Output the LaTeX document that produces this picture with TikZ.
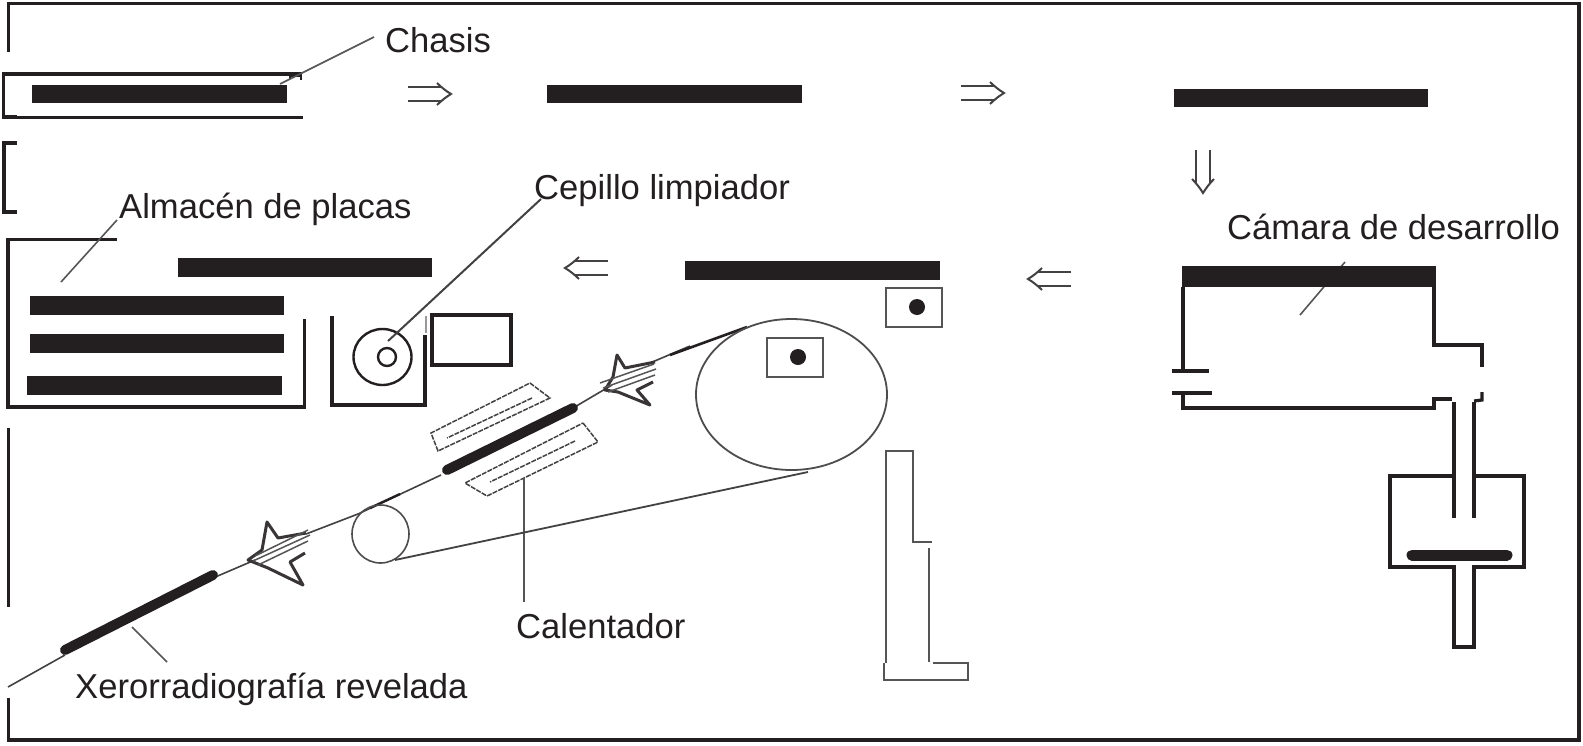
\documentclass[tikz,border=0pt]{standalone}
\usepackage{fontspec}
\setmainfont{Liberation Sans}
\definecolor{ink}{HTML}{231F20}
\definecolor{lead}{HTML}{555555}
\tikzset{
  x=1pt,y=-1pt,
  label/.style={inner sep=0pt,anchor=base west,text=ink,font=\fontsize{34.6}{35}\selectfont},
  wall/.style={draw=ink,line width=3.2pt,line cap=butt,line join=miter},
  plate/.style={fill=ink,draw=none},
  leader/.style={draw=lead,line width=1.6pt},
  belt/.style={draw=ink!85,line width=1.6pt},
  dashy/.style={draw=ink!85,line width=1.5pt,dash pattern=on 5pt off 1.2pt},
  film/.style={draw=ink,line width=10pt,line cap=round},
  dotc/.style={fill=ink,draw=none},
  box/.style={draw=lead,line width=2.6pt},
  starline/.style={draw=ink!90,line width=3pt,line join=round},
  hatch/.style={draw=lead,line width=1.5pt},
  dblarr/.pic={
    \draw[ink!85,line width=2pt] (-21,-7) -- (13,-7) (-21,7) -- (13,7);
    \draw[ink!85,line width=2pt] (8,-11) .. controls (12,-7) and (17,-3) .. (22,0) .. controls (17,3) and (12,7) .. (8,11);
  }
}
\begin{document}
\begin{tikzpicture}
\useasboundingbox (0,0) rectangle (1583,745);
\fill[white] (0,0) rectangle (1583,745);
% outer frame
\draw[wall] (8.5,52) -- (8.5,3.5) -- (1579,3.5) -- (1579,740) -- (8.5,740) -- (8.5,698);
\draw[wall] (17,143) -- (4,143) -- (4,212) -- (17,212);
\draw[wall] (8.5,428) -- (8.5,607);
% chasis
\draw[wall] (302,74) -- (3.5,74) -- (3.5,117) -- (17,117);
\draw[wall] (17,117.5) -- (303,117.5);
\draw[wall,line width=1.8pt] (290,79) -- (290,76) -- (301,76) -- (301,80);
\coordinate (chasisA) at (280,84);
\coordinate (chasisB) at (374,37);
\draw[leader] (chasisA) -- (chasisB);
\fill[plate] (32,85) rectangle (287,103);
\node[label] (chasis) at (385,52) {Chasis};
% plates along the path
\fill[plate] (547,85) rectangle (802,103);
\fill[plate] (1174,89) rectangle (1428,107);
\fill[plate] (685,261) rectangle (940,280);
\pic at (429,94) {dblarr};
\pic at (982,93) {dblarr};
\pic[rotate=-90] at (1203,171) {dblarr};
\pic[rotate=180] at (587,268) {dblarr};
\pic[rotate=180] at (1050,279) {dblarr};
% store
\draw[wall] (117,239.5) -- (8,239.5) -- (8,407) -- (304.5,407) -- (304.5,319);
\coordinate (storeA) at (61,282);
\coordinate (storeB) at (117,220);
\draw[leader] (storeA) -- (storeB);
\node[label] (almacen) at (119,218) {Almacén de placas};
\fill[plate] (178,258) rectangle (432,277);
\fill[plate] (30,296) rectangle (284,315);
\fill[plate] (30,334) rectangle (284,353);
\fill[plate] (27,376) rectangle (282,395);
% brush
\draw[wall] (332,316) -- (332,405) -- (425,405) -- (425,335);
\draw[draw=lead!60,line width=1.2pt] (426,316) -- (426,333);
\draw[draw=ink,line width=2.4pt] (382.5,357) ellipse [x radius=29,y radius=28];
\draw[draw=ink,line width=2.4pt] (387,357) circle [radius=9];
\coordinate (brushA) at (388,341);
\coordinate (brushB) at (541,199);
\draw[draw=ink!85,line width=2pt] (brushA) -- (400,330) -- (brushB);
\node[label] (cepillo) at (534,199) {Cepillo limpiador};
\draw[wall] (432,315) rectangle (511,365);
% diagonal belt
\draw[belt] (8,687) -- (65,655);
\draw[belt] (213,578) -- (255,560);
\draw[belt] (306,534) -- (358,514) -- (441,475);
\draw[draw=ink,line width=2.4pt] (370,508) -- (400,494);
\draw[belt] (573,408) -- (612,385);
\draw[belt] (650,363) -- (690,346);
\draw[draw=ink,line width=2.6pt] (670,355) -- (747,327);
\draw[film] (65,650) -- (213,575);
\draw[film] (447,470) -- (573,408);
\coordinate (xeroA) at (132,627);
\coordinate (xeroB) at (167,662);
\draw[leader] (xeroA) -- (xeroB);
\node[label] (xero) at (75,698) {Xerorradiografía revelada};
% star 1
\draw[starline] (306,533) -- (278,538) -- (267,522) -- (262,550) -- (248,560) -- (268,568) -- (303,585) -- (290,562) -- (305,553);
\draw[hatch] (255,556) -- (308,530) (253,561) -- (310,535) (258,565) -- (308,541);
% star 2
\draw[starline] (655,362) -- (625,368) -- (617,355) -- (613,377) -- (605,390) -- (618,392) -- (650,405) -- (637,390) -- (653,382);
\draw[hatch] (600,383) -- (654,364) (603,388) -- (656,369) (608,392) -- (655,375);
% heaters
\draw[dashy] (530,383) -- (550,398) -- (438,451) -- (431,433) -- cycle;
\draw[dashy] (532,398) -- (447,438);
\draw[dashy] (583,423) -- (598,442) -- (487,496) -- (465,483) -- cycle;
\draw[dashy] (575,441) -- (490,482);
\coordinate (heatA) at (524,478);
\coordinate (heatB) at (524,602);
\draw[leader] (heatA) -- (heatB);
\node[label] (calentador) at (516,638) {Calentador};
% rollers
\draw[draw=ink!80,line width=1.6pt] (380.5,534) ellipse [x radius=28.5,y radius=29];
\draw[draw=ink!80,line width=1.8pt] (791.5,394.5) ellipse [x radius=95.5,y radius=75.5];
\coordinate (rollA) at (395,560);
\coordinate (rollB) at (808,472);
\draw[draw=ink!85,line width=1.8pt] (rollA) -- (rollB);
% small boxes with dots
\draw[box] (767,338) rectangle (823,377);
\fill[dotc] (798,357) circle [radius=8];
\draw[box] (886,288) rectangle (942,327);
\fill[dotc] (917,307) circle [radius=8];
% L shape
\draw[box] (886,663) -- (886,451) -- (913,451) -- (913,542) -- (932,542);
\draw[box] (929,548) -- (929,662);
\draw[box] (933,663) -- (968,663) -- (968,680) -- (884,680) -- (884,663);
% chamber
\coordinate (camA) at (1345,262);
\coordinate (camB) at (1300,315);
\draw[leader] (camA) -- (camB);
\fill[plate] (1182,266) rectangle (1436,287);
\node[label] (camara) at (1227,239) {Cámara de desarrollo};
\draw[wall] (1183,287) -- (1183,371);
\draw[wall] (1172,371) -- (1209,371);
\draw[wall] (1172,393) -- (1212,393);
\draw[wall] (1183,393) -- (1183,408) -- (1434,408) -- (1434,399) -- (1452,399);
\draw[wall] (1434,287) -- (1434,345) -- (1482,345) -- (1482,367);
\draw[wall] (1474,401) -- (1482,400) -- (1482,392);
\draw[wall] (1454,402) -- (1454,518);
\draw[wall] (1474,402) -- (1474,518);
\draw[wall] (1454,476) -- (1390,476) -- (1390,567) -- (1454,567) -- (1454,647) -- (1474,647) -- (1474,567) -- (1524,567) -- (1524,476) -- (1474,476);
\draw[film,line width=11pt] (1412,555) -- (1507,555);
\end{tikzpicture}
\end{document}
